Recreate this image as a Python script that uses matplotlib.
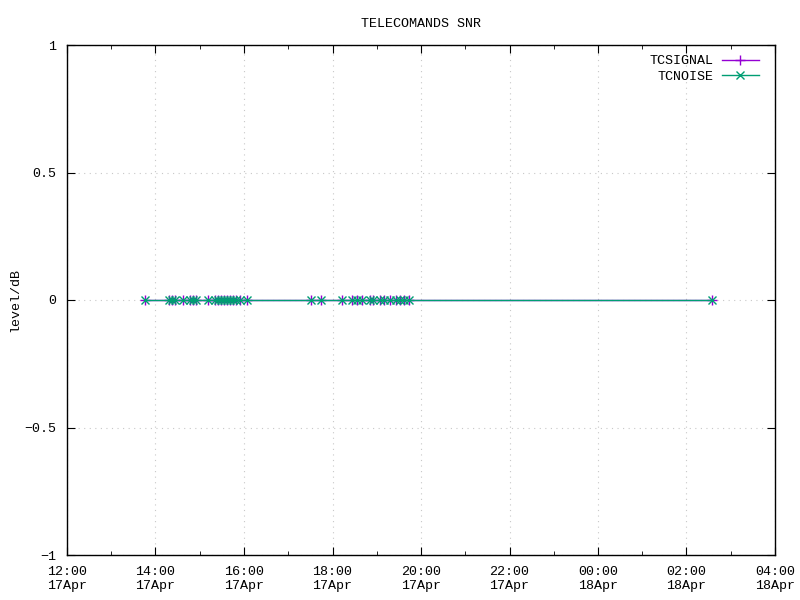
import datetime as dt

import matplotlib
matplotlib.use("Agg")
import matplotlib.pyplot as plt
import matplotlib.dates as mdates
from matplotlib.ticker import MultipleLocator

times = ["17 13:46", "17 14:18", "17 14:22", "17 14:26", "17 14:37", "17 14:47",
         "17 14:51", "17 14:55", "17 15:11", "17 15:21", "17 15:25", "17 15:29",
         "17 15:33", "17 15:37", "17 15:41", "17 15:45", "17 15:49", "17 15:55",
         "17 16:04", "17 17:31", "17 17:44", "17 18:13", "17 18:26", "17 18:33",
         "17 18:40", "17 18:51", "17 18:55", "17 19:04", "17 19:10", "17 19:18",
         "17 19:26", "17 19:32", "17 19:37", "17 19:44", "18 02:35"]
tcsignal = [0] * len(times)
tcnoise = [0] * len(times)


def main():
    plt.rcParams['font.family'] = ['Liberation Mono', 'DejaVu Sans Mono']
    plt.rcParams['font.size'] = 9.6

    x = [dt.datetime.strptime("2024-04-" + t, "%Y-%m-%d %H:%M") for t in times]

    fig = plt.figure(figsize=(8, 6), dpi=100)
    ax = fig.add_axes([0.08375, 0.075, 0.885, 0.85])

    ax.plot(x, tcsignal, color='#9400d3', linewidth=1, marker='+', markersize=7,
            markeredgewidth=1, label='TCSIGNAL')
    ax.plot(x, tcnoise, color='#009e73', linewidth=1, marker='x', markersize=6,
            markeredgewidth=1, label='TCNOISE')

    ax.set_xlim(dt.datetime(2024, 4, 17, 12, 0), dt.datetime(2024, 4, 18, 4, 0))
    ax.set_ylim(-1, 1)
    ax.xaxis.set_major_locator(mdates.HourLocator(byhour=range(0, 24, 2)))
    ax.xaxis.set_minor_locator(mdates.HourLocator())
    ax.xaxis.set_major_formatter(mdates.DateFormatter('%H:%M\n%d%b'))
    ax.yaxis.set_major_locator(MultipleLocator(0.5))
    ax.yaxis.set_major_formatter(plt.FuncFormatter(lambda v, p: '{:g}'.format(v).replace('-', '\u2212')))

    ax.tick_params(which='both', direction='in', top=True, right=True, colors='black')
    ax.tick_params(which='major', length=6, pad=8)
    ax.tick_params(which='minor', length=3)
    for lab in ax.get_xticklabels():
        lab.set_horizontalalignment('center')

    ax.grid(True, which='major', color='#c8c8c8', linestyle=(0, (1, 4)), linewidth=0.8)
    for s in ax.spines.values():
        s.set_linewidth(1)

    ax.set_ylabel('level/dB', labelpad=2)
    ax.set_title('TELECOMANDS SNR', fontsize=9.6, pad=13)

    ax.legend(loc='upper right', bbox_to_anchor=(0.9915, 1.0), frameon=False,
              markerfirst=False, handlelength=2.8, borderaxespad=0.35,
              labelspacing=0.25, handletextpad=0.6)

    fig.savefig('out.png', dpi=100)


if __name__ == '__main__':
    main()
